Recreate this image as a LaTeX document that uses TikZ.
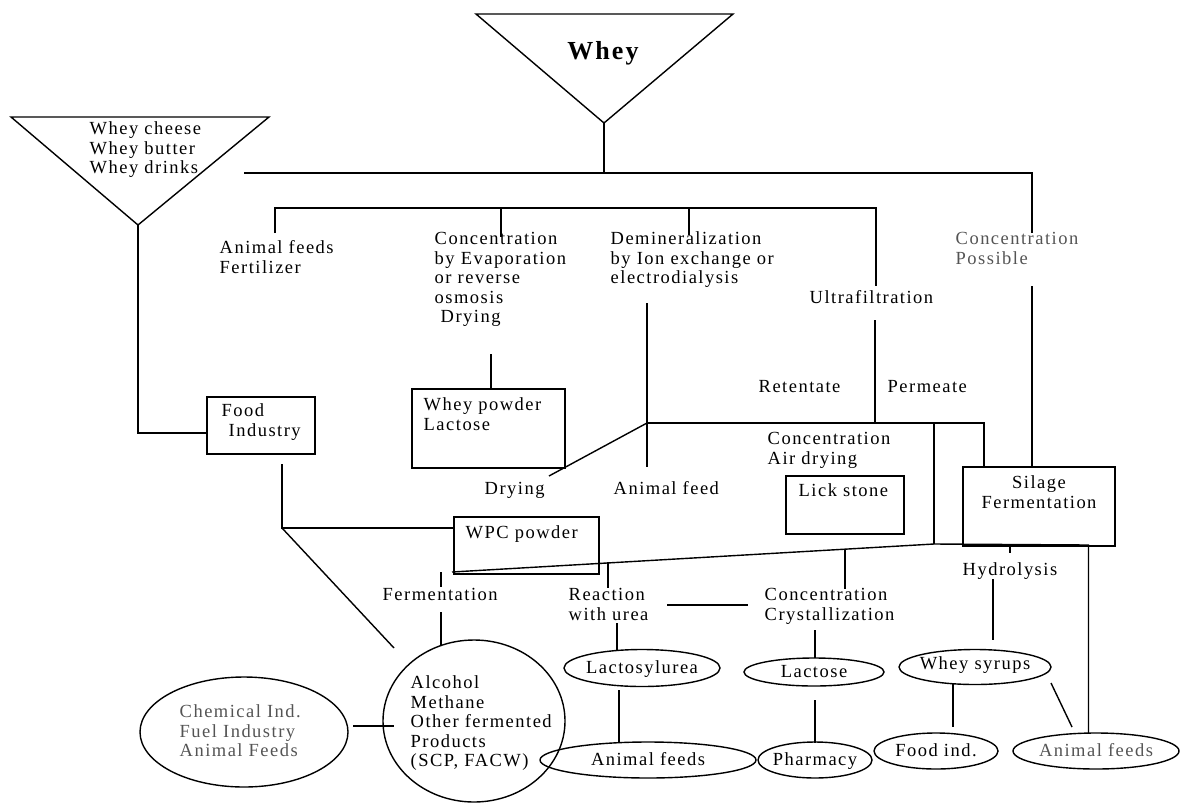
\documentclass[tikz,border=0pt]{standalone}
\usepackage{fontspec}
\setmainfont{Liberation Serif}[LetterSpace=8]
\usetikzlibrary{shapes.geometric}
\newcommand{\fs}{\fontsize{18.5}{19.5}\selectfont}
\definecolor{txtgray}{gray}{0.33}
\begin{document}
\begin{tikzpicture}[x=1pt,y=-1pt, line width=1.4pt,
  tl/.style={anchor=north west, inner sep=0pt, align=left, font=\fs},
  tc/.style={anchor=north, inner sep=0pt, align=center, font=\fs},
  lab/.style={anchor=base, inner sep=0pt, font=\fs},
  box/.style={draw, rectangle, inner sep=0pt},
  ell/.style={draw, ellipse, inner sep=0pt},
  gr/.style={text=txtgray}]
\useasboundingbox (0,0) rectangle (1182,803);

% triangles
\coordinate (wt1) at (476,14);
\coordinate (wt2) at (733,14);
\coordinate (wapex) at (604,123);
\draw (wt1) -- (wt2) -- (wapex) -- cycle;
\node[anchor=base, inner sep=0pt, font=\fontsize{26}{30}\selectfont\bfseries] (whey) at (603,59) {Whey};

\coordinate (lt1) at (11,117);
\coordinate (lt2) at (269,117);
\coordinate (lapex) at (138,225);
\draw (lt1) -- (lt2) -- (lapex) -- cycle;
\node[tl] (wprod) at (89,120.3) {\strut Whey cheese\\Whey butter\\Whey drinks};

% texts
\node[tl] (afert) at (219,239.3) {\strut Animal feeds\\Fertilizer};
\node[tl] (conc) at (434,230.3) {\strut Concentration\\by Evaporation\\or reverse\\osmosis\\\hspace{6pt}Drying};
\node[tl] (demin) at (610,230.3) {\strut Demineralization\\by Ion exchange or\\electrodialysis};
\node[tl] (ultra) at (809,289.3) {\strut Ultrafiltration};
\node[tl, gr] (cposs) at (955,230.3) {\strut Concentration\\Possible};
\node[tl] (ret) at (758,378.3) {\strut Retentate};
\node[tl] (perm) at (887,378.3) {\strut Permeate};
\node[tl] (cair) at (767,430.3) {\strut Concentration\\Air drying};
\node[tl] (dry) at (484,480.3) {\strut Drying};
\node[tl] (afeed) at (613,480.3) {\strut Animal feed};
\node[tl] (ferm) at (382,586.3) {\strut Fermentation};
\node[tl] (react) at (568,586.3) {\strut Reaction\\with urea};
\node[tl] (ccry) at (764,586.3) {\strut Concentration\\Crystallization};
\node[tl] (hydro) at (962,561.3) {\strut Hydrolysis};

% boxes
\node[box, minimum width=108pt, minimum height=57pt] (food) at (261,425.5) {};
\node[tl] (foodt) at (221,402.3) {\strut Food\\\hspace{7pt}Industry};
\node[box, minimum width=153pt, minimum height=79pt] (wpbox) at (488.5,428.5) {};
\node[tl] (wpt) at (423,396.3) {\strut Whey powder\\Lactose};
\node[box, minimum width=145pt, minimum height=57pt] (wpc) at (526.5,545.5) {};
\node[tl] (wpct) at (465,524.3) {\strut WPC powder};
\node[box, minimum width=118pt, minimum height=58pt] (lick) at (845,505) {};
\node[tl] (lickt) at (798,482.3) {\strut Lick stone};
\node[box, minimum width=152pt, minimum height=79pt] (silage) at (1039,506.5) {};
\node[tc] (silt) at (1039,474.3) {\strut Silage\\Fermentation};

% ellipses
\node[ell, minimum width=182pt, minimum height=162pt] (alc) at (474,721) {};
\node[tl] (alct) at (410,674.3) {\strut Alcohol\\Methane\\Other fermented\\Products\\(SCP, FACW)};
\node[ell, minimum width=208pt, minimum height=110pt] (chem) at (244,732) {};
\node[tl, gr] (chemt) at (179,703.3) {\strut Chemical Ind.\\Fuel Industry\\Animal Feeds};
\node[ell, minimum width=156pt, minimum height=37pt] (lacu) at (642,668) {};
\node[lab] (lacut) at (642,673) {Lactosylurea};
\node[ell, minimum width=140pt, minimum height=28pt] (lact) at (814,672) {};
\node[lab] (lactt) at (814,677) {Lactose};
\node[ell, minimum width=152pt, minimum height=35pt] (syr) at (975,667) {};
\node[lab] (syrt) at (975,669) {Whey syrups};
\node[ell, minimum width=216pt, minimum height=36pt] (af1) at (648,760) {};
\node[lab] (af1t) at (648,765) {Animal feeds};
\node[ell, minimum width=114pt, minimum height=36pt] (pharm) at (815,760) {};
\node[lab] (pharmt) at (815,765) {Pharmacy};
\node[ell, minimum width=124pt, minimum height=36pt] (fi) at (936,751) {};
\node[lab] (fit) at (936,756) {Food ind.};
\node[ell, minimum width=166pt, minimum height=36pt] (af2) at (1096,751) {};
\node[lab, gr] (af2t) at (1096,756) {Animal feeds};

% connector coordinates
\coordinate (j1) at (604,173);
\coordinate (b1) at (244,173);
\coordinate (b2) at (1032,173);
\coordinate (b3) at (1032,233);
\coordinate (c0) at (275,233);
\coordinate (c1) at (275,208);
\coordinate (c2) at (501,208);
\coordinate (c2e) at (501,237);
\coordinate (c3) at (689,208);
\coordinate (c3e) at (689,235);
\coordinate (c4) at (876,208);
\coordinate (c5) at (876,286);
\coordinate (l1) at (138,433);
\coordinate (l2) at (207,433);
\coordinate (f1) at (282,464);
\coordinate (f2) at (282,528);
\coordinate (f3) at (454,528);
\coordinate (f4) at (394,648);
\coordinate (d1) at (491,354);
\coordinate (d2) at (491,389);
\coordinate (m1) at (647,303);
\coordinate (m2) at (647,423);
\coordinate (m3) at (647,467);
\coordinate (u1) at (875,320);
\coordinate (u2) at (875,423);
\coordinate (r1) at (984,423);
\coordinate (r2) at (984,467);
\coordinate (dd) at (549,476);
\coordinate (p1) at (934,423);
\coordinate (p2) at (934,544);
\coordinate (q1) at (1032,286);
\coordinate (q2) at (1032,467);
\coordinate (g1) at (452,572);
\coordinate (g2) at (1088.5,545);
\coordinate (g3) at (1088.5,733);
\coordinate (t1a) at (441,572);
\coordinate (t1b) at (441,587);
\coordinate (t2a) at (441,612);
\coordinate (t2b) at (441,645);
\coordinate (t3a) at (608,562);
\coordinate (t3b) at (608,588);
\coordinate (t4a) at (617,623);
\coordinate (t4b) at (617,650);
\coordinate (h1) at (667,605);
\coordinate (h2) at (748,605);
\coordinate (k1) at (845,549);
\coordinate (k2) at (845,589);
\coordinate (k3) at (815,630);
\coordinate (k4) at (815,658);
\coordinate (k5) at (815,700);
\coordinate (k6) at (815,743);
\coordinate (k7) at (619,690);
\coordinate (k8) at (619,743);
\coordinate (s1) at (1010,546);
\coordinate (s2) at (1010,553);
\coordinate (s3) at (993,579);
\coordinate (s4) at (993,640);
\coordinate (s5) at (953,684);
\coordinate (s6) at (953,727);
\coordinate (s7) at (1051,683);
\coordinate (s8) at (1072,727);
\coordinate (e1) at (353,726);
\coordinate (e2) at (394,726);

% connectors
\draw (wapex) -- (j1);
\draw (b1) -- (b2) -- (b3);
\draw (c0) -- (c1) -- (c4) -- (c5);
\draw (c2) -- (c2e);
\draw (c3) -- (c3e);
\draw (lapex) -- (l1) -- (l2);
\draw (f1) -- (f2) -- (f3);
\draw (f2) -- (f4);
\draw (d1) -- (d2);
\draw (m1) -- (m3);
\draw (u1) -- (u2);
\draw (m2) -- (r1) -- (r2);
\draw (m2) -- (dd);
\draw (p1) -- (p2);
\draw (q1) -- (q2);
\draw (g1) -- (p2) -- (g2) -- (g3);
\draw (t1a) -- (t1b);
\draw (t2a) -- (t2b);
\draw (t3a) -- (t3b);
\draw (t4a) -- (t4b);
\draw (h1) -- (h2);
\draw (k1) -- (k2);
\draw (k3) -- (k4);
\draw (k5) -- (k6);
\draw (k7) -- (k8);
\draw (s1) -- (s2);
\draw (s3) -- (s4);
\draw (s5) -- (s6);
\draw (s7) -- (s8);
\draw (e1) -- (e2);
\end{tikzpicture}
\end{document}
